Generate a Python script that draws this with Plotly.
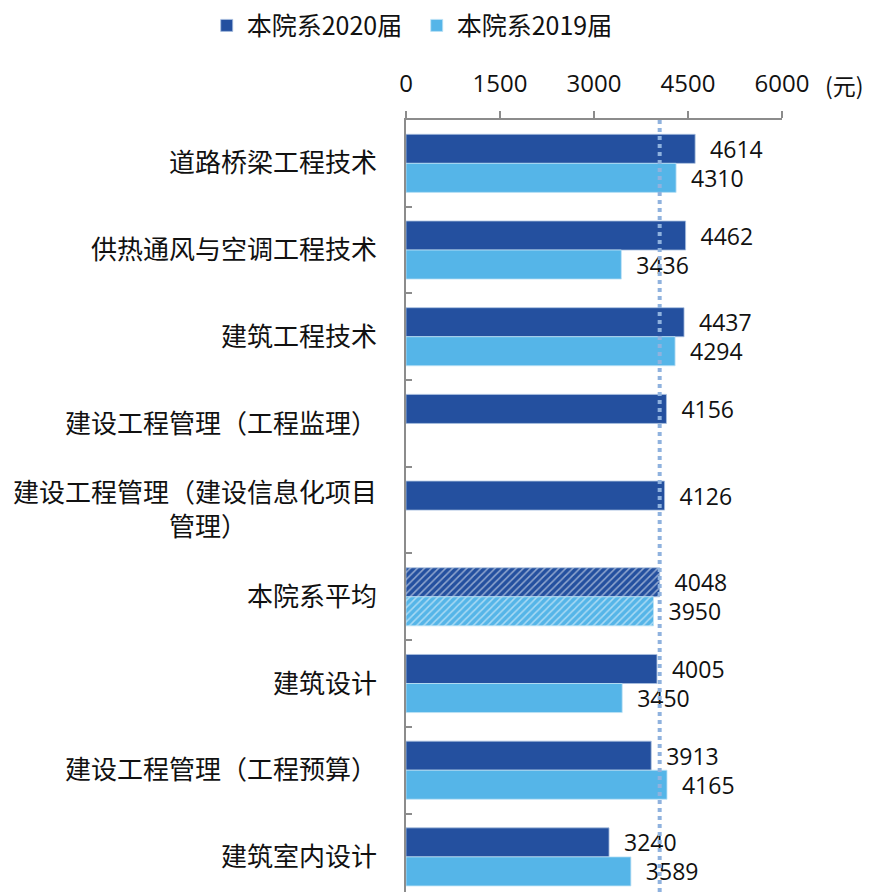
import plotly.graph_objects as go

categories = ["道路桥梁工程技术", "供热通风与空调工程技术", "建筑工程技术",
              "建设工程管理（工程监理）",
              "建设工程管理（建设信息化项目<br>管理）" + "\u3000" * 5 + "\u2002",
              "本院系平均", "建筑设计", "建设工程管理（工程预算）", "建筑室内设计"]
v2020 = [4614, 4462, 4437, 4156, 4126, 4048, 4005, 3913, 3240]
v2019 = [4310, 3436, 4294, None, None, 3950, 3450, 4165, 3589]
avg_2020 = 4048
x_ticks = [0, 1500, 3000, 4500, 6000]

C20 = "#24509F"
C19 = "#55B5E8"
avg_idx = categories.index("本院系平均")
pat = ["/" if i == avg_idx else "" for i in range(len(categories))]

def lbl(v):
    return "" if v is None else "\u00a0\u00a0" + str(v)

fig = go.Figure()
fig.add_trace(go.Bar(
    y=categories, x=v2020, orientation="h", name="本院系2020届",
    marker=dict(color=C20, line=dict(width=0.8, color="#A9C0E0"),
                pattern=dict(shape=pat, fgcolor="white", fillmode="overlay", size=5, solidity=0.3)),
    text=[lbl(v) for v in v2020], textposition="outside", constraintext="none",
    textfont=dict(size=23, color="#111111", family="Open Sans, Noto Sans CJK SC"),
    cliponaxis=False,
))
fig.add_trace(go.Bar(
    y=categories, x=v2019, orientation="h", name="本院系2019届",
    marker=dict(color=C19, line=dict(width=0.8, color="#BFE2F5"),
                pattern=dict(shape=pat, fgcolor="white", fillmode="overlay", size=5, solidity=0.3)),
    text=[lbl(v) for v in v2019], textposition="outside", constraintext="none",
    textfont=dict(size=23, color="#111111", family="Open Sans, Noto Sans CJK SC"),
    cliponaxis=False,
))

fig.add_shape(type="line", xref="x", yref="paper", x0=avg_2020, x1=avg_2020, y0=0, y1=1,
              line=dict(color="#8FB2DE", width=4, dash="dot"), layer="above")

fig.add_annotation(text="(元)", xref="paper", yref="paper", x=1.108, y=1.045,
                   xanchor="left", yanchor="middle", showarrow=False,
                   font=dict(size=23, color="#111111", family="Noto Sans CJK SC"))

fig.update_layout(
    width=869, height=892,
    margin=dict(l=406, r=87, t=120, b=0),
    paper_bgcolor="white", plot_bgcolor="white",
    barmode="group", bargap=0.33, bargroupgap=0,
    font=dict(family="Noto Sans CJK SC, Open Sans", color="#111111"),
    showlegend=True,
    legend=dict(orientation="h", x=-0.53, y=1.152, xanchor="left", yanchor="top",
                font=dict(size=25, family="Noto Sans CJK SC"), itemwidth=30,
                entrywidth=165,
                traceorder="normal", tracegroupgap=0),
    uniformtext=dict(mode=False),
)
fig.update_xaxes(side="top", range=[0, 6000], tickvals=x_ticks, ticktext=[str(t) for t in x_ticks],
                 showgrid=False, zeroline=False, showline=True, linecolor="#8C8C8C", linewidth=1.5,
                 ticks="outside", ticklen=7, tickcolor="#8C8C8C", tickwidth=1.5,
                 tickfont=dict(size=24, family="Open Sans, Noto Sans CJK SC"),
                 ticklabelstandoff=10)
fig.update_yaxes(type="category", categoryorder="array", categoryarray=categories,
                 range=[8.405, -0.5], showgrid=False, showline=True, linecolor="#8C8C8C", linewidth=1.5,
                 ticks="inside", tickson="boundaries", ticklen=6, tickcolor="#8C8C8C", tickwidth=1.5,
                 tickfont=dict(size=26, family="Noto Sans CJK SC"), ticklabelstandoff=22)

fig.write_html("out.html")
